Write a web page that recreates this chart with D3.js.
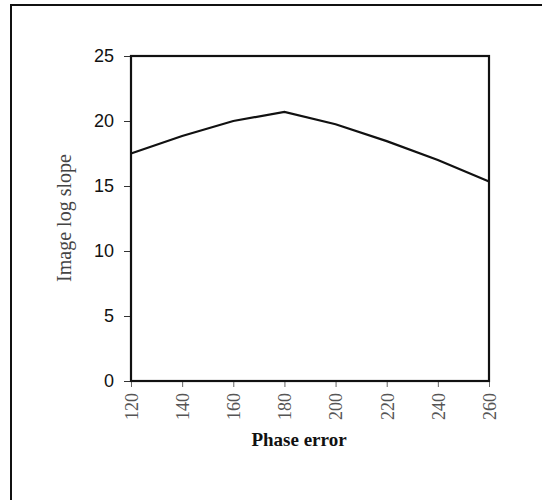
<!DOCTYPE html>
<html>
<head>
<meta charset="utf-8">
<script src="https://cdn.jsdelivr.net/npm/d3@7"></script>
<style>
  body { margin: 0; background: #fff; }
</style>
</head>
<body>
<div class="chartHolder"></div>
<script>
// data
let phaseError = [120, 140, 160, 180, 200, 220, 240, 260];
let logSlope = [17.5, 18.85, 20.0, 20.7, 19.75, 18.45, 17.0, 15.35];
let xTicks = [120, 140, 160, 180, 200, 220, 240, 260];
let yTicks = [0, 5, 10, 15, 20, 25];

let width = 542,
  height = 500,
  plotLeft = 131,
  plotRight = 489,
  plotTop = 56,
  plotBottom = 381;

let svg = d3
  .select(".chartHolder")
  .append("svg")
  .attr("width", width)
  .attr("height", height);

// outer frame
svg
  .append("rect")
  .attr("x", 11)
  .attr("y", 5)
  .attr("width", 540)
  .attr("height", 500)
  .style("fill", "none")
  .style("stroke", "#111")
  .style("stroke-width", 2);

let xScale = d3.scaleLinear().domain([120, 260]).range([plotLeft, plotRight]);
let yScale = d3.scaleLinear().domain([0, 25]).range([plotBottom, plotTop]);

// x axis
let xAxis = d3.axisBottom(xScale).tickValues(xTicks).tickSize(6).tickSizeOuter(0);
let xg = svg
  .append("g")
  .attr("transform", "translate(0," + plotBottom + ")")
  .call(xAxis);
xg.select(".domain").remove();
xg.selectAll(".tick line").style("stroke", "#666");
xg.selectAll(".tick text")
  .attr("transform", "rotate(-90)")
  .attr("x", -12)
  .attr("y", 0)
  .attr("dy", "0.35em")
  .style("text-anchor", "end")
  .style("font-family", "'Liberation Serif', 'DejaVu Serif', serif")
  .style("font-size", "18px")
  .style("fill", "#555");

// y axis
let yAxis = d3.axisLeft(yScale).tickValues(yTicks).tickSize(7).tickSizeOuter(0);
let yg = svg
  .append("g")
  .attr("transform", "translate(" + plotLeft + ",0)")
  .call(yAxis);
yg.select(".domain").remove();
yg.selectAll(".tick line").style("stroke", "#333");
yg.selectAll(".tick text")
  .attr("x", -17)
  .style("font-family", "'Liberation Sans', Arial, sans-serif")
  .style("font-size", "18px")
  .style("fill", "#111");

// plot frame
svg
  .append("rect")
  .attr("x", plotLeft)
  .attr("y", plotTop)
  .attr("width", plotRight - plotLeft)
  .attr("height", plotBottom - plotTop)
  .style("fill", "none")
  .style("stroke", "#111")
  .style("stroke-width", 2.2);

// curve
let line = d3
  .line()
  .x((d, i) => xScale(phaseError[i]))
  .y((d) => yScale(d));
svg
  .append("path")
  .datum(logSlope)
  .attr("d", line)
  .style("fill", "none")
  .style("stroke", "#111")
  .style("stroke-width", 2.2);

// axis titles
svg
  .append("text")
  .attr("transform", "translate(71,218) rotate(-90)")
  .style("text-anchor", "middle")
  .style("font-family", "'Liberation Serif', serif")
  .style("font-size", "20px")
  .style("fill", "#444")
  .text("Image log slope");

svg
  .append("text")
  .attr("x", 299)
  .attr("y", 446)
  .style("text-anchor", "middle")
  .style("font-family", "'Liberation Serif', serif")
  .style("font-weight", "bold")
  .style("font-size", "19px")
  .style("fill", "#111")
  .text("Phase error");
</script>
</body>
</html>
